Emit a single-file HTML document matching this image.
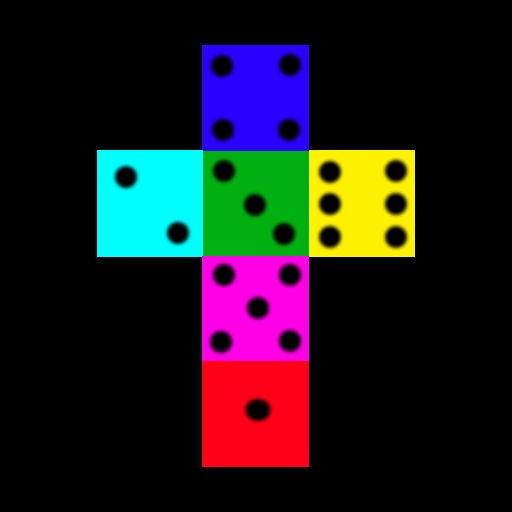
<!DOCTYPE html>
<html><head><meta charset="utf-8"><style>html,body{margin:0;padding:0;background:#000;width:512px;height:512px;overflow:hidden}</style></head>
<body>
<svg id="net" width="512" height="512" viewBox="0 0 512 512" xmlns="http://www.w3.org/2000/svg">
<defs><filter id="b" x="-50%" y="-50%" width="200%" height="200%"><feGaussianBlur stdDeviation="1.8"/></filter></defs>
<rect width="512" height="512" fill="#000"/>
</svg>
<script>
const faces = [
 {name:'face-four-blue', x:202,y:45,w:107,h:106,c:'#2a00ff', pips:[[222,66],[290,65],[223,130],[289,130]]},
 {name:'face-two-cyan', x:97,y:150,w:106,h:107,c:'#00ffff', pips:[[126,177],[178,233]]},
 {name:'face-three-green', x:203,y:151,w:106,h:105,c:'#00b010', pips:[[224,171],[255,205],[284,234]]},
 {name:'face-six-yellow', x:309,y:150,w:106,h:107,c:'#fff200', pips:[[330,172],[396,171],[330,204],[396,204],[330,237],[396,237]]},
 {name:'face-five-magenta', x:202,y:256,w:107,h:105,c:'#ff00e6', pips:[[224,275],[290,275],[258,308],[221,342],[290,341]]},
 {name:'face-one-red', x:202,y:361,w:107,h:106,c:'#ff0018', pips:[[258,410]]}
];
const svg=document.getElementById('net');
const NS='http://www.w3.org/2000/svg';
faces.forEach(f=>{
 const g=document.createElementNS(NS,'g');
 
 
 const r=document.createElementNS(NS,'rect');
 
 
 r.setAttribute('x',f.x);r.setAttribute('y',f.y);r.setAttribute('width',f.w);r.setAttribute('height',f.h);r.setAttribute('fill',f.c);
 g.appendChild(r);
 f.pips.forEach(p=>{
  const e=document.createElementNS(NS,'ellipse');
  
  
  e.setAttribute('cx',p[0]);e.setAttribute('cy',p[1]);
  e.setAttribute('rx',f.pips.length===1?12.5:11);e.setAttribute('ry',11);
  e.setAttribute('fill','#000');e.setAttribute('filter','url(#b)');
  g.appendChild(e);
 });
 svg.appendChild(g);
});
</script>
</body></html>
